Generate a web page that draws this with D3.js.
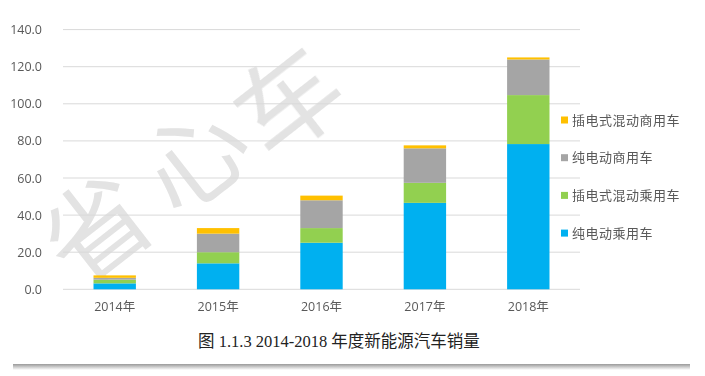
<!DOCTYPE html>
<html><head><meta charset="utf-8">
<script src="https://cdn.jsdelivr.net/npm/d3@7"></script>
<style>body{margin:0;background:#fff}svg{display:block}</style>
</head><body>
<svg id="c" width="705" height="376"></svg>
<script>
const years = ["2014年","2015年","2016年","2017年","2018年"];
const seriesNames = ["纯电动乘用车","插电式混动乘用车","纯电动商用车","插电式混动商用车"];
const bevPassenger = [3.2, 14.0, 25.1, 46.6, 78.3];
const phevPassenger = [2.0, 6.0, 7.9, 10.8, 26.4];
const bevCommercial = [1.0, 10.0, 15.0, 18.6, 19.2];
const phevCommercial = [1.3, 3.0, 2.5, 1.6, 1.1];
const colors = ["#00B0F0","#92D050","#A5A5A5","#FFC000"];
const yTicks = [0,20,40,60,80,100,120,140];
const caption = "图 1.1.3 2014-2018 年度新能源汽车销量";
const watermark = "省心车";

const svg = d3.select("#c");
const defs = svg.append("defs");
const g1 = defs.append("linearGradient").attr("id","sh").attr("x1",0).attr("y1",0).attr("x2",0).attr("y2",1);
g1.append("stop").attr("offset","0%").attr("stop-color","#9a9a9a");
g1.append("stop").attr("offset","100%").attr("stop-color","#ffffff");

const mLeft = 63, mRight = 580, mTop = 29.6, mBottom = 289.3;
const x = d3.scaleBand().domain(years).range([mLeft, mRight]).paddingInner(0.59).paddingOuter(0.295);
const y = d3.scaleLinear().domain([0,140]).range([mBottom, mTop]);

// watermark
const wm = svg.append("g").attr("opacity",0.8);
const wmPos = [[92,224,-38],[190,152,-38],[284,96,-38]];
watermark.split("").forEach((ch,i)=>{
  wm.append("text").attr("transform",`translate(${wmPos[i][0]},${wmPos[i][1]}) rotate(${wmPos[i][2]})`)
    .attr("text-anchor","middle").attr("dominant-baseline","central")
    .attr("font-family","'Noto Sans CJK SC'").attr("font-weight",400).attr("font-size",104)
    .attr("fill","#dcdcdc").text(ch);
});

// grid
svg.append("g").selectAll("line").data(yTicks).join("line")
  .attr("x1",mLeft).attr("x2",mRight).attr("y1",d=>y(d)).attr("y2",d=>y(d))
  .attr("stroke","#d9d9d9").attr("stroke-width",1);

// y axis labels
const ya = svg.append("g").attr("transform",`translate(${mLeft},0)`)
  .call(d3.axisLeft(y).tickValues(yTicks).tickFormat(d3.format(".1f")).tickSize(0).tickPadding(21));
ya.select(".domain").remove();
ya.selectAll("text").attr("font-family","'Open Sans','Noto Sans CJK SC',sans-serif").attr("font-size",12.5).attr("fill","#595959");

// stacked bars
const data = years.map((yr,i)=>({year:yr, s0:bevPassenger[i], s1:phevPassenger[i], s2:bevCommercial[i], s3:phevCommercial[i]}));
const stack = d3.stack().keys(["s0","s1","s2","s3"])(data);
svg.append("g").selectAll("g").data(stack).join("g").attr("fill",(d,i)=>colors[i])
  .selectAll("rect").data(d=>d).join("rect")
  .attr("x",d=>x(d.data.year)).attr("width",x.bandwidth())
  .attr("y",d=>y(d[1])).attr("height",d=>y(d[0])-y(d[1]));

// x axis labels
const xa = svg.append("g").attr("transform",`translate(0,${mBottom})`)
  .call(d3.axisBottom(x).tickSize(0).tickPadding(13));
xa.select(".domain").remove();
xa.selectAll("text").attr("font-family","'Open Sans','Noto Sans CJK SC',sans-serif").attr("font-size",12.5).attr("fill","#595959");

// legend
const legendOrder = [3,2,1,0];
const lg = svg.append("g").selectAll("g").data(legendOrder).join("g")
  .attr("transform",(d,i)=>`translate(561,${120 + i*37.7})`);
lg.append("rect").attr("x",0).attr("y",-3.5).attr("width",7).attr("height",7).attr("fill",d=>colors[d]);
lg.append("text").attr("x",11).attr("dy","0.35em").attr("font-family","'Noto Sans CJK SC',sans-serif")
  .attr("font-size",13).attr("fill","#595959").attr("letter-spacing",0.5).text(d=>seriesNames[d]);

// caption
svg.append("text").attr("x",198).attr("y",347).attr("font-family","'Liberation Serif','Noto Sans CJK SC',serif")
  .attr("font-size",16.5).attr("fill","#222").text(caption);

// bottom shadow
svg.append("rect").attr("x",13).attr("y",364).attr("width",677).attr("height",6).attr("fill","url(#sh)");
</script>
</body></html>
